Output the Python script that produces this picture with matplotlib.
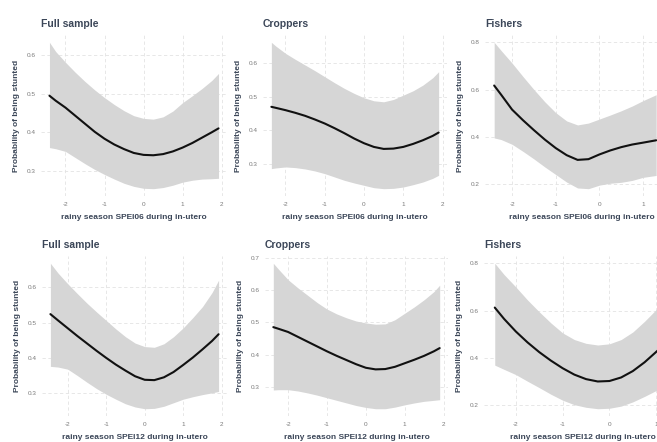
import matplotlib
matplotlib.use("Agg")
import matplotlib.pyplot as plt

# ---- data (predicted probability + 95% band) ----
titles = ["Full sample", "Croppers", "Fishers",
          "Full sample", "Croppers", "Fishers"]
xlabels = ["rainy season SPEI06 during in-utero"] * 3 + \
          ["rainy season SPEI12 during in-utero"] * 3

full06_x = [-2.41, -2.25, -2, -1.75, -1.5, -1.25, -1, -0.75, -0.5, -0.25,
            0, 0.25, 0.5, 0.75, 1, 1.25, 1.5, 1.75, 1.92]
full06_fit = [0.495, 0.482, 0.464, 0.443, 0.422, 0.401, 0.383, 0.368, 0.356,
              0.346, 0.341, 0.340, 0.343, 0.350, 0.360, 0.372, 0.386, 0.400,
              0.410]
full06_hi = [0.634, 0.610, 0.582, 0.556, 0.532, 0.510, 0.490, 0.472, 0.456,
             0.443, 0.436, 0.434, 0.440, 0.455, 0.477, 0.495, 0.514, 0.535,
             0.553]
full06_lo = [0.360, 0.357, 0.350, 0.334, 0.318, 0.303, 0.290, 0.278, 0.267,
             0.259, 0.254, 0.253, 0.256, 0.262, 0.270, 0.275, 0.278, 0.279,
             0.280]

crop06_x = [-2.36, -2.25, -2, -1.75, -1.5, -1.25, -1, -0.75, -0.5, -0.25,
            0, 0.25, 0.5, 0.75, 1, 1.25, 1.5, 1.75, 1.9]
crop06_fit = [0.470, 0.467, 0.460, 0.452, 0.443, 0.432, 0.420, 0.406, 0.391,
              0.375, 0.361, 0.350, 0.344, 0.345, 0.350, 0.359, 0.370, 0.383,
              0.393]
crop06_hi = [0.663, 0.652, 0.630, 0.612, 0.595, 0.578, 0.560, 0.542, 0.525,
             0.510, 0.497, 0.488, 0.485, 0.492, 0.505, 0.518, 0.535, 0.557,
             0.575]
crop06_lo = [0.285, 0.287, 0.290, 0.288, 0.284, 0.278, 0.270, 0.260, 0.250,
             0.242, 0.235, 0.228, 0.225, 0.226, 0.230, 0.237, 0.245, 0.256,
             0.265]

fish06_x = [-2.41, -2.25, -2, -1.75, -1.5, -1.25, -1, -0.75, -0.5, -0.25,
            0, 0.25, 0.5, 0.75, 1, 1.3]
fish06_fit = [0.617, 0.578, 0.515, 0.470, 0.428, 0.388, 0.352, 0.322, 0.302,
              0.305, 0.325, 0.342, 0.356, 0.367, 0.375, 0.385]
fish06_hi = [0.800, 0.765, 0.712, 0.655, 0.600, 0.548, 0.502, 0.467, 0.450,
             0.458, 0.475, 0.492, 0.510, 0.530, 0.553, 0.578]
fish06_lo = [0.395, 0.388, 0.368, 0.338, 0.306, 0.272, 0.240, 0.208, 0.183,
             0.180, 0.195, 0.203, 0.207, 0.215, 0.228, 0.236]

full12_x = [-2.45, -2.25, -2, -1.75, -1.5, -1.25, -1, -0.75, -0.5, -0.25,
            0, 0.25, 0.5, 0.75, 1, 1.25, 1.5, 1.75, 1.92]
full12_fit = [0.524, 0.506, 0.484, 0.462, 0.441, 0.420, 0.400, 0.381, 0.364,
              0.348, 0.338, 0.337, 0.345, 0.360, 0.380, 0.401, 0.424, 0.448,
              0.467]
full12_hi = [0.668, 0.640, 0.610, 0.582, 0.555, 0.530, 0.506, 0.482, 0.460,
             0.442, 0.432, 0.430, 0.440, 0.460, 0.485, 0.514, 0.545, 0.585,
             0.620]
full12_lo = [0.376, 0.374, 0.368, 0.350, 0.331, 0.313, 0.297, 0.283, 0.270,
             0.261, 0.256, 0.257, 0.263, 0.273, 0.283, 0.290, 0.296, 0.301,
             0.305]

crop12_x = [-2.38, -2.25, -2, -1.75, -1.5, -1.25, -1, -0.75, -0.5, -0.25,
            0, 0.25, 0.5, 0.75, 1, 1.25, 1.5, 1.75, 1.9]
crop12_fit = [0.485, 0.480, 0.470, 0.455, 0.440, 0.425, 0.410, 0.396, 0.383,
              0.370, 0.359, 0.354, 0.355, 0.362, 0.373, 0.384, 0.396, 0.410,
              0.420]
crop12_hi = [0.683, 0.665, 0.632, 0.607, 0.584, 0.561, 0.541, 0.526, 0.514,
             0.504, 0.498, 0.494, 0.495, 0.508, 0.528, 0.548, 0.570, 0.595,
             0.615]
crop12_lo = [0.290, 0.291, 0.291, 0.287, 0.281, 0.274, 0.266, 0.258, 0.250,
             0.242, 0.236, 0.232, 0.232, 0.237, 0.244, 0.250, 0.255, 0.258,
             0.260]

fish12_x = [-2.45, -2.25, -2, -1.75, -1.5, -1.25, -1, -0.75, -0.5, -0.25,
            0, 0.25, 0.5, 0.75, 1.05]
fish12_fit = [0.613, 0.565, 0.512, 0.466, 0.425, 0.389, 0.357, 0.330, 0.311,
              0.301, 0.303, 0.318, 0.345, 0.382, 0.435]
fish12_hi = [0.800, 0.752, 0.700, 0.645, 0.595, 0.548, 0.506, 0.478, 0.462,
             0.455, 0.460, 0.478, 0.510, 0.555, 0.615]
fish12_lo = [0.370, 0.352, 0.330, 0.302, 0.275, 0.247, 0.222, 0.203, 0.192,
             0.186, 0.188, 0.197, 0.215, 0.238, 0.268]

yticks = [[0.3, 0.4, 0.5, 0.6], [0.3, 0.4, 0.5, 0.6], [0.2, 0.4, 0.6, 0.8],
          [0.3, 0.4, 0.5, 0.6], [0.3, 0.4, 0.5, 0.6, 0.7], [0.2, 0.4, 0.6, 0.8]]
xticks = [-2, -1, 0, 1, 2]

series = [
    (full06_x, full06_fit, full06_lo, full06_hi),
    (crop06_x, crop06_fit, crop06_lo, crop06_hi),
    (fish06_x, fish06_fit, fish06_lo, fish06_hi),
    (full12_x, full12_fit, full12_lo, full12_hi),
    (crop12_x, crop12_fit, crop12_lo, crop12_hi),
    (fish12_x, fish12_fit, fish12_lo, fish12_hi),
]

# panel boxes in pixels (left, top, right, bottom); Fishers runs off the page
W, H = 657, 442
boxes = [(41, 35, 227, 196), (263, 35, 447, 196), (485, 35, 678, 196),
         (42, 256, 227, 416), (265, 256, 448, 416), (484, 256, 682, 416)]
fisher_xlim = {2: (-2.62, 1.8), 5: (-2.68, 1.55)}

text_col = "#3b4658"
plt.rcParams['font.family'] = ['Liberation Sans', 'DejaVu Sans']

fig = plt.figure(figsize=(W / 100, H / 100), dpi=100)

for i, (x, fit, lo, hi) in enumerate(series):
    l, t, r, b = boxes[i]
    ax = fig.add_axes([l / W, 1 - b / H, (r - l) / W, (b - t) / H])
    ax.fill_between(x, lo, hi, color="#d6d6d6", linewidth=0, zorder=2)
    ax.plot(x, fit, color="#111111", linewidth=1.5, zorder=3,
            solid_capstyle="round", solid_joinstyle="round")
    ax.set_xticks(xticks)
    ax.set_yticks(yticks[i])
    ax.set_xticklabels([str(v) for v in xticks])
    ax.set_yticklabels([f"{v:.1f}" for v in yticks[i]])
    # set_xticks widens the view, so the Fishers limits go on afterwards
    if i in fisher_xlim:
        ax.set_xlim(*fisher_xlim[i])
    ax.grid(True, linestyle=(0, (4, 3)), color="#e3e3e3", linewidth=0.6,
            zorder=0)
    ax.set_axisbelow(True)
    for s in ax.spines.values():
        s.set_visible(False)
    ax.tick_params(length=0, labelsize=4.6, labelcolor="#7a7a7a", pad=4)
    ax.set_title(titles[i], loc="left", fontsize=7.5, fontweight="bold",
                 color=text_col, pad=6)
    ax.set_xlabel(xlabels[i], fontsize=6, fontweight="bold", color=text_col)
    ax.set_ylabel("Probability of being stunted", fontsize=6,
                  fontweight="bold", color=text_col)
    wpx = r - l
    hpx = b - t
    ax.xaxis.set_label_coords(0.5, -18 / hpx)
    ax.yaxis.set_label_coords(-21 / wpx, 0.5)

fig.savefig("out.png", dpi=100)
